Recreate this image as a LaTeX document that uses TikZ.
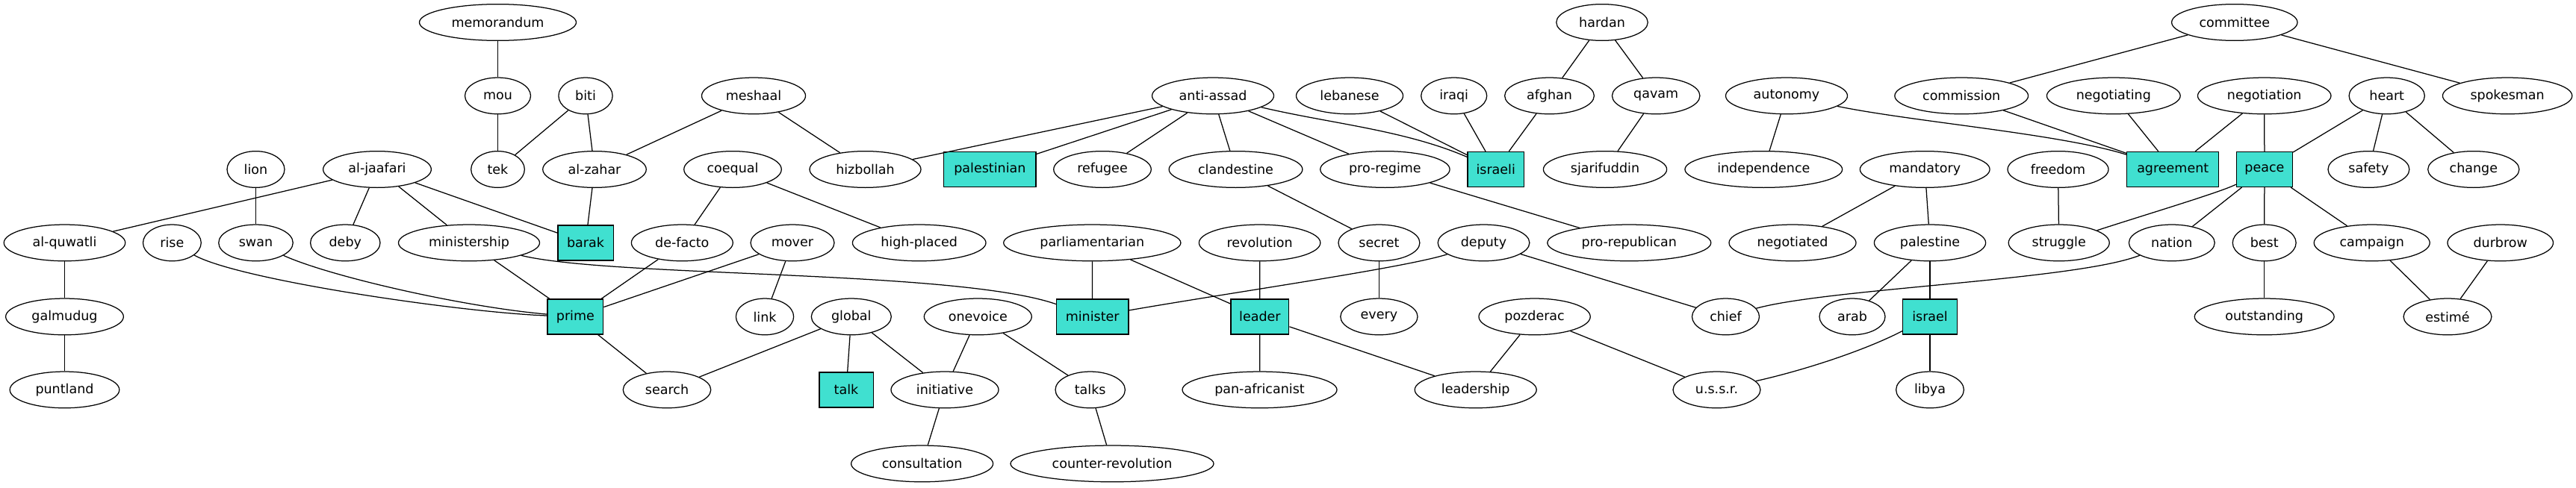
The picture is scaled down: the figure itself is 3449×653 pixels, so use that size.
\documentclass[tikz,border=0pt]{standalone}
\usepackage{fontspec}
\setmainfont{DejaVu Sans}
\usetikzlibrary{shapes.geometric}
\definecolor{turq}{HTML}{40E0D0}
\begin{document}
\begin{tikzpicture}[x=0.8pt,y=-0.8pt,
  el/.style={ellipse,draw,line width=1pt,minimum height=39pt,minimum width=#1,inner sep=0pt,font=\fontsize{14}{16}\selectfont},
  bx/.style={rectangle,draw,line width=1pt,fill=turq,minimum height=37.6pt,minimum width=#1,inner sep=0pt,font=\fontsize{14}{16}\selectfont},
  ed/.style={line width=1pt}]
\useasboundingbox (0,0) rectangle (3449,653);
% row 0
\node[el=168pt] (memorandum) at (666.5,30) {memorandum};
\node[el=98pt] (hardan) at (2145,30) {hardan};
\node[el=134.7pt] (committee) at (2991.8,30) {committee};
% row 1
\node[el=70.4pt] (mou) at (666.5,128.4) {mou};
\node[el=57.8pt] (biti) at (784,128.4) {biti};
\node[el=111.2pt] (meshaal) at (1009,128.4) {meshaal};
\node[el=130.4pt] (antiassad) at (1624,128.4) {anti-assad};
\node[el=114.4pt] (lebanese) at (1807,128.4) {lebanese};
\node[el=70.4pt] (iraqi) at (1946.7,128.4) {iraqi};
\node[el=95.8pt] (afghan) at (2074.5,128.4) {afghan};
\node[el=94pt] (qavam) at (2217.2,128.4) {qavam};
\node[el=130.4pt] (autonomy) at (2392,128.4) {autonomy};
\node[el=143pt] (commission) at (2626.2,128.4) {commission};
\node[el=143pt] (negotiating) at (2829.8,128.4) {negotiating};
\node[el=142.8pt] (negotiation) at (3031.7,128.4) {negotiation};
\node[el=81pt] (heart) at (3195.7,128.4) {heart};
\node[el=138.7pt] (spokesman) at (3357.1,128.4) {spokesman};
% row 2
\node[el=61.6pt] (lion) at (342.5,227) {lion};
\node[el=115.8pt] (aljaafari) at (505,227) {al-jaafari};
\node[el=57.3pt] (tek) at (666.5,227) {tek};
\node[el=110.8pt] (alzahar) at (796,227) {al-zahar};
\node[el=104.4pt] (coequal) at (981,227) {coequal};
\node[el=119.2pt] (hizbollah) at (1158.5,227) {hizbollah};
\node[bx=98.6pt] (palestinian) at (1325.4,227) {palestinian};
\node[el=104.4pt] (refugee) at (1476,227) {refugee};
\node[el=143pt] (clandestine) at (1654.5,227) {clandestine};
\node[el=138.7pt] (proregime) at (1854.4,227) {pro-regime};
\node[bx=60.3pt] (israeli) at (2002.7,227) {israeli};
\node[el=132.2pt] (sjarifuddin) at (2149,227) {sjarifuddin};
\node[el=168.6pt] (independence) at (2361.3,227) {independence};
\node[el=139pt] (mandatory) at (2577.2,227) {mandatory};
\node[el=108pt] (freedom) at (2755.5,227) {freedom};
\node[bx=98.4pt] (agreement) at (2909.2,227) {agreement};
\node[bx=60.1pt] (peace) at (3031.9,227) {peace};
\node[el=87.1pt] (safety) at (3171.4,227) {safety};
\node[el=97.8pt] (change) at (3311.8,227) {change};
% row 3
\node[el=130pt] (alquwatli) at (86.5,325.4) {al-quwatli};
\node[el=62.2pt] (rise) at (230.4,325.4) {rise};
\node[el=79.6pt] (swan) at (342.5,325.4) {swan};
\node[el=74.7pt] (deby) at (462.3,325.4) {deby};
\node[el=151.2pt] (ministership) at (628,325.4) {ministership};
\node[bx=59.4pt] (barak) at (784,325.4) {barak};
\node[el=108.7pt] (defacto) at (913.3,325.4) {de-facto};
\node[el=89.6pt] (mover) at (1061,325.4) {mover};
\node[el=142.9pt] (highplaced) at (1230.7,325.4) {high-placed};
\node[el=189.8pt] (parliamentarian) at (1462.3,325.4) {parliamentarian};
\node[el=130pt] (revolution) at (1686.6,325.4) {revolution};
\node[el=87.2pt] (secret) at (1846.4,325.4) {secret};
\node[el=98.2pt] (deputy) at (1986.5,325.4) {deputy};
\node[el=175.2pt] (prorepublican) at (2181.3,325.4) {pro-republican};
\node[el=136pt] (negotiated) at (2400,325.4) {negotiated};
\node[el=119.4pt] (palestine) at (2584,325.4) {palestine};
\node[el=108pt] (struggle) at (2756.7,325.4) {struggle};
\node[el=91.9pt] (nation) at (2907.8,325.4) {nation};
\node[el=67.9pt] (best) at (3031.7,325.4) {best};
\node[el=124pt] (campaign) at (3175.7,325.4) {campaign};
\node[el=113.2pt] (durbrow) at (3347.7,325.4) {durbrow};
% row 4
\node[el=126.2pt] (galmudug) at (86.5,424.4) {galmudug};
\node[bx=59.7pt] (prime) at (770.4,424.4) {prime};
\node[el=61.8pt] (link) at (1024,424.4) {link};
\node[el=85.6pt] (global) at (1139.8,424.4) {global};
\node[el=115.2pt] (onevoice) at (1309.3,424.4) {onevoice};
\node[bx=77.1pt] (minister) at (1462.7,424.4) {minister};
\node[bx=62.2pt] (leader) at (1686.9,424.4) {leader};
\node[el=82.6pt] (every) at (1846.4,424.4) {every};
\node[el=119.4pt] (pozderac) at (2054.6,424.4) {pozderac};
\node[el=72pt] (chief) at (2310.5,424.4) {chief};
\node[el=70.4pt] (arab) at (2480,424.4) {arab};
\node[bx=58.2pt] (israel) at (2584,424.4) {israel};
\node[el=149.5pt] (outstanding) at (3031.7,424.4) {outstanding};
\node[el=94.3pt] (estime) at (3277,424.4) {estimé};
% row 5
\node[el=117.3pt] (puntland) at (86.5,522.4) {puntland};
\node[el=94pt] (search) at (893,522.4) {search};
\node[bx=57.8pt] (talk) at (1133,522.4) {talk};
\node[el=115.2pt] (initiative) at (1265,522.4) {initiative};
\node[el=74.7pt] (talks) at (1459.7,522.4) {talks};
\node[el=165.6pt] (panafricanist) at (1686.5,522.4) {pan-africanist};
\node[el=130.4pt] (leadership) at (1975.7,522.4) {leadership};
\node[el=93.6pt] (ussr) at (2298.5,522.4) {u.s.s.r.};
\node[el=72.6pt] (libya) at (2584,522.4) {libya};
% row 6
\node[el=152pt] (consultation) at (1234.6,621.4) {consultation};
\node[el=217.6pt] (counterrevolution) at (1489,621.4) {counter-revolution};
% straight edges
\foreach \a/\b in {memorandum/mou, mou/tek, biti/tek, biti/alzahar, meshaal/alzahar, meshaal/hizbollah,
  alzahar/barak, aljaafari/alquwatli, aljaafari/deby, aljaafari/ministership, aljaafari/barak,
  lion/swan, alquwatli/galmudug, galmudug/puntland, ministership/prime, defacto/prime, mover/prime,
  mover/link, coequal/defacto, coequal/highplaced, prime/search, global/search, global/talk,
  global/initiative, onevoice/initiative, onevoice/talks, initiative/consultation, talks/counterrevolution,
  antiassad/hizbollah, antiassad/palestinian, antiassad/refugee, antiassad/clandestine, antiassad/proregime,
  clandestine/secret, parliamentarian/minister, parliamentarian/leader, revolution/leader, deputy/chief,
  leader/panafricanist, leader/leadership, secret/every, lebanese/israeli, iraqi/israeli, afghan/israeli,
  hardan/afghan, hardan/qavam, qavam/sjarifuddin, proregime/prorepublican, pozderac/leadership,
  pozderac/ussr, autonomy/independence, commission/agreement, committee/commission, committee/spokesman,
  negotiating/agreement, negotiation/agreement, negotiation/peace, heart/peace, heart/safety, heart/change,
  mandatory/negotiated, mandatory/palestine, palestine/arab, palestine/israel, israel/libya,
  freedom/struggle, peace/nation, peace/best, peace/campaign, best/outstanding, campaign/estime,
  durbrow/estime}
  \draw[ed] (\a) -- (\b);
% curved edges
\draw[ed] (rise) .. controls (320,375.5) and (620,419) .. (prime);
\draw[ed] (swan) .. controls (440,370) and (620,411.4) .. (prime);
\draw[ed] (ministership) .. controls (820,372) and (1280,361.3) .. (minister);
\draw[ed] (deputy) .. controls (1880,359) and (1650,391.8) .. (minister);
\draw[ed] (antiassad) .. controls (1780,165.4) and (1880,174) .. (israeli);
\draw[ed] (autonomy) .. controls (2560,163) and (2760,179.6) .. (agreement);
\draw[ed] (nation) .. controls (2780,375.5) and (2450,386.3) .. (chief);
\draw[ed] (israel) .. controls (2500,468) and (2420,495.2) .. (ussr);
\draw[ed] (peace) .. controls (2975,257) and (2870,288.4) .. (struggle);
\end{tikzpicture}
\end{document}
